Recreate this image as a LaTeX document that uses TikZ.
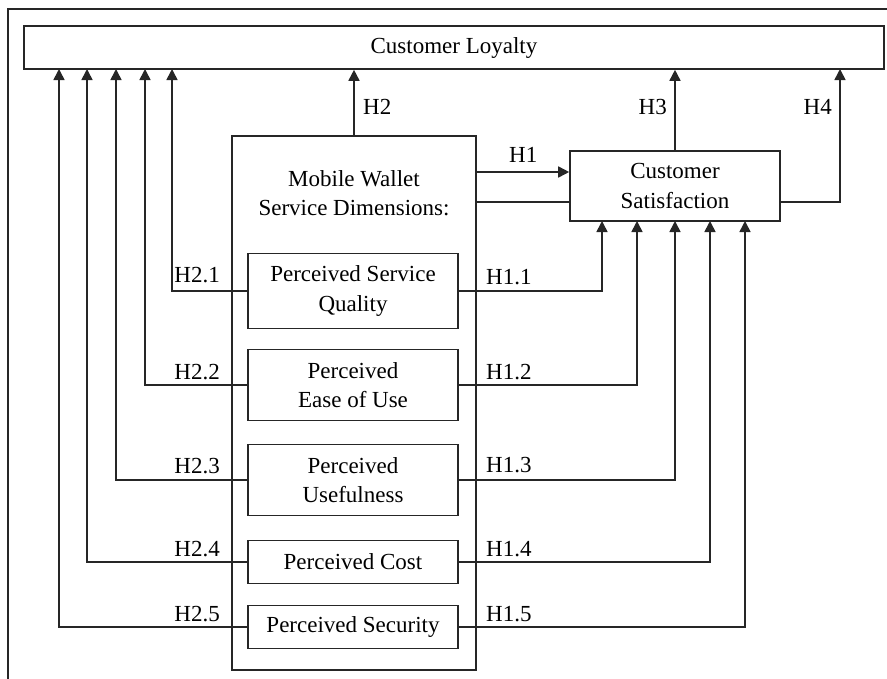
\documentclass[tikz,border=0pt]{standalone}
\usepackage{fontspec}
\setmainfont{Liberation Serif}
\usetikzlibrary{arrows.meta}
\definecolor{ln}{HTML}{262626}
\begin{document}
\begin{tikzpicture}[x=1pt,y=-1pt,
  every node/.style={font=\fontsize{23}{29.5}\selectfont, text=black},
  box/.style={draw=ln, line width=1.6pt, align=center, inner sep=0pt},
  conn/.style={draw=ln, line width=1.6pt},
  arr/.style={conn, -{Triangle[length=11pt,width=11pt]}},
  lab/.style={inner sep=0pt}]
\useasboundingbox (0,0) rectangle (887,678);
\draw[conn] (890,9) -- (8,9) -- (8,681);
% nodes
\node[box, minimum width=860pt, minimum height=43pt] (loyalty) at (454,47.5) {Customer Loyalty};
\node[box, minimum width=244pt, minimum height=534pt] (main) at (354,403) {};
\node[inner sep=0pt, align=center] (mwtitle) at (354,193) {Mobile Wallet\\Service Dimensions:};
\node[box, minimum width=210pt, minimum height=70pt] (sat) at (675,186) {Customer\\Satisfaction};
\node[box, minimum width=210pt, minimum height=75pt] (b1) at (353,291) {Perceived Service\\Quality};
\node[box, minimum width=210pt, minimum height=71pt] (b2) at (353,385) {Perceived\\Ease of Use};
\node[box, minimum width=210pt, minimum height=71pt] (b3) at (353,480) {Perceived\\Usefulness};
\node[box, minimum width=210pt, minimum height=43pt] (b4) at (353,562) {Perceived Cost};
\node[box, minimum width=210pt, minimum height=43pt] (b5) at (353,627) {Perceived Security};
% anchor coordinates on loyalty bottom
\coordinate (l1) at (172,69);
\coordinate (l2) at (145,69);
\coordinate (l3) at (116,69);
\coordinate (l4) at (87,69);
\coordinate (l5) at (59,69);
\coordinate (lh4) at (840,69);
% anchor coordinates on satisfaction bottom
\coordinate (s1) at (602,221);
\coordinate (s2) at (637,221);
\coordinate (s3) at (675,221);
\coordinate (s4) at (710,221);
\coordinate (s5) at (745,221);
\coordinate (h1a) at (476,172);
\coordinate (h1b) at (476,202);
% H2.x
\draw[arr] (b1.west) -| (l1);
\draw[arr] (b2.west) -| (l2);
\draw[arr] (b3.west) -| (l3);
\draw[arr] (b4.west) -| (l4);
\draw[arr] (b5.west) -| (l5);
% H1.x
\draw[arr] (b1.east) -| (s1);
\draw[arr] (b2.east) -| (s2);
\draw[arr] (b3.east) -| (s3);
\draw[arr] (b4.east) -| (s4);
\draw[arr] (b5.east) -| (s5);
% H1, H2, H3, H4
\draw[arr] (h1a) -- (h1a -| sat.west);
\draw[conn] (h1b) -- (h1b -| sat.west);
\draw[arr] (main.north) -- (main.north |- loyalty.south);
\draw[arr] (sat.north) -- (sat.north |- loyalty.south);
\draw[arr] ([yshift=-16pt]sat.east) -| (lh4);
% labels
\node[lab, anchor=base west] (tH2) at (363,114) {H2};
\node[lab, anchor=base east] (tH3) at (667,114) {H3};
\node[lab, anchor=base east] (tH4) at (832,114) {H4};
\node[lab, anchor=base west] (tH1) at (509,162) {H1};
\node[lab, anchor=base west] (t11) at (486,284) {H1.1};
\node[lab, anchor=base west] (t12) at (486,379) {H1.2};
\node[lab, anchor=base west] (t13) at (486,472) {H1.3};
\node[lab, anchor=base west] (t14) at (486,556) {H1.4};
\node[lab, anchor=base west] (t15) at (486,621) {H1.5};
\node[lab, anchor=base east] (t21) at (220,282) {H2.1};
\node[lab, anchor=base east] (t22) at (220,379) {H2.2};
\node[lab, anchor=base east] (t23) at (220,473) {H2.3};
\node[lab, anchor=base east] (t24) at (220,556) {H2.4};
\node[lab, anchor=base east] (t25) at (220,621) {H2.5};
\end{tikzpicture}
\end{document}
